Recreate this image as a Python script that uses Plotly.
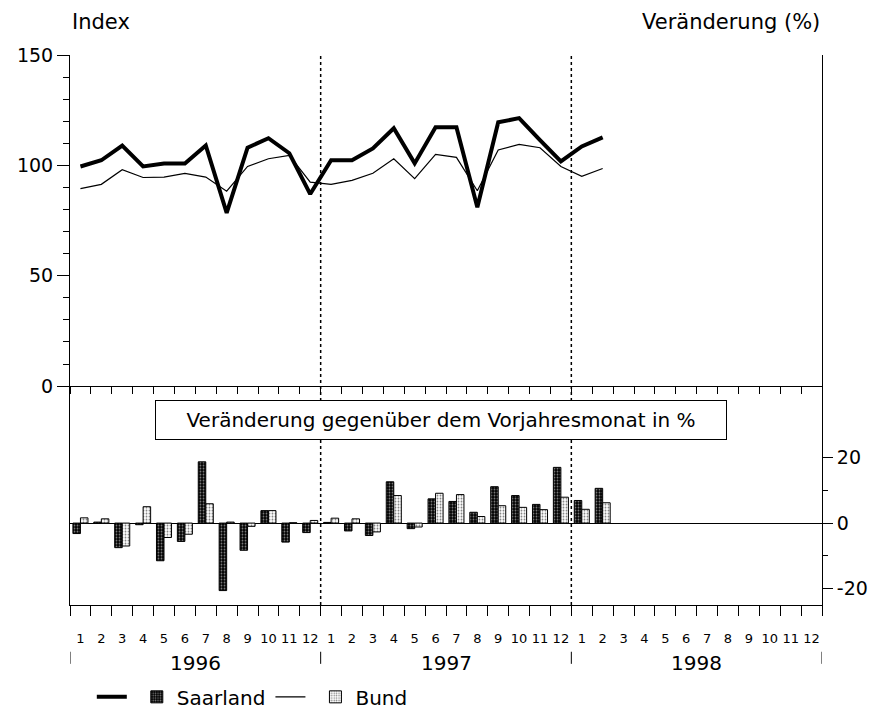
import numpy as np
import plotly.graph_objects as go

# ---------------- data ----------------
years = ["1996", "1997", "1998"]
month_labels = [str(m) for m in range(1, 13)] * 3
chg_tickvals = [-20, 0, 20]
chg_ticktext = ["-20", "0", "20"]

saar_index = [99.5, 102.3, 109.0, 99.5, 100.8, 100.8, 109.0, 78.5, 108.0, 112.3, 105.5, 87.0,
              102.3, 102.3, 107.7, 116.8, 100.9, 117.3, 117.3, 81.0, 119.5, 121.4, 111.4, 101.8,
              108.6, 112.7]
bund_index = [89.5, 91.4, 98.0, 94.5, 94.7, 96.4, 94.7, 88.3, 99.5, 103.0, 104.5, 92.4,
              91.4, 93.2, 96.4, 103.0, 94.0, 105.0, 103.6, 88.5, 107.0, 109.5, 108.0, 99.5,
              95.0, 98.6]

saar_chg = [-3.2, 0.3, -7.5, -0.5, -11.5, -5.6, 18.7, -20.6, -8.3, 3.8, -5.8, -2.9,
            0.2, -2.4, -3.8, 12.6, -1.7, 7.4, 6.6, 3.3, 11.1, 8.4, 5.7, 17.0,
            6.9, 10.6]
bund_chg = [1.6, 1.3, -7.0, 5.0, -4.4, -3.4, 5.9, 0.3, -1.0, 3.8, 0.1, 0.8,
            1.5, 1.3, -2.7, 8.4, -1.2, 9.1, 8.7, 2.0, 5.3, 4.8, 4.1, 7.9,
            4.2, 6.2]

n_months = len(month_labels)
x_pos = np.arange(len(saar_index)) + 0.5
month_centers = np.arange(n_months) + 0.5
month_bounds = np.arange(n_months + 1)
year_bounds = [12 * i for i in range(len(years) + 1)]
year_centers = [12 * i + 6 for i in range(len(years))]

FONT = "DejaVu Sans, Liberation Sans, Arial, sans-serif"

fig = go.Figure()

# lines (top panel) and bars (bottom panel)
fig.add_trace(go.Scatter(x=x_pos, y=saar_index, mode="lines", name="",
                         line=dict(color="black", width=4), xaxis="x2", yaxis="y",
                         legendgroup="s", showlegend=True))
fig.add_trace(go.Bar(x=x_pos, y=saar_chg, name="Saarland", xaxis="x", yaxis="y2",
                     marker=dict(color="black", line=dict(color="black", width=1),
                                 pattern=dict(shape=".", fgcolor="white", bgcolor="black",
                                              size=3, solidity=0.3)),
                     legendgroup="s"))
fig.add_trace(go.Scatter(x=x_pos, y=bund_index, mode="lines", name="",
                         line=dict(color="black", width=1.2), xaxis="x2", yaxis="y",
                         legendgroup="b", showlegend=True))
fig.add_trace(go.Bar(x=x_pos, y=bund_chg, name="Bund", xaxis="x", yaxis="y2",
                     marker=dict(color="white", line=dict(color="black", width=1),
                                 pattern=dict(shape=".", fgcolor="black", bgcolor="white",
                                              size=3, solidity=0.3)),
                     legendgroup="b"))

split = 0.398
fig.update_layout(
    width=869, height=707,
    margin=dict(l=62, r=55, t=47, b=110, autoexpand=False),
    paper_bgcolor="white", plot_bgcolor="white",
    font=dict(family=FONT, color="black", size=19),
    barmode="group", bargap=0.28, bargroupgap=0.0,
    showlegend=True,
    legend=dict(orientation="h", x=0.029, xanchor="left", y=-0.167, yanchor="middle",
                font=dict(size=20), itemwidth=30, traceorder="normal",
                bgcolor="rgba(0,0,0,0)"),
    xaxis=dict(domain=[0, 1], anchor="y2", range=[0, n_months], automargin=False,
               showline=True, linecolor="black", linewidth=1,
               tickmode="array", tickvals=month_centers, ticktext=month_labels,
               ticks="outside", ticklen=0, tickfont=dict(size=13),
               ticklabelstandoff=21,
               minor=dict(tickmode="array", tickvals=month_bounds, ticks="outside",
                          ticklen=10, tickcolor="black", showgrid=False),
               showgrid=False, zeroline=False),
    xaxis2=dict(domain=[0, 1], anchor="y", matches="x", range=[0, n_months],
                automargin=False,
                showline=True, linecolor="black", linewidth=1,
                tickmode="array", tickvals=month_bounds, ticks="outside", ticklen=7,
                tickcolor="black", showticklabels=False, showgrid=False, zeroline=False),
    yaxis=dict(domain=[split, 1], anchor="x2", range=[0, 150], automargin=False,
               showline=True, linecolor="black", linewidth=1, mirror=True,
               tickmode="array", tickvals=[0, 50, 100, 150], ticks="outside",
               ticklen=12, tickcolor="black",
               minor=dict(dtick=10, tick0=0, ticks="outside", ticklen=6,
                          tickcolor="black", showgrid=False),
               showgrid=False, zeroline=False, tickfont=dict(size=19)),
    yaxis2=dict(domain=[0, split], anchor="x", range=[-25, 41.8], side="right",
                automargin=False,
                showline=True, linecolor="black", linewidth=1, mirror=True,
                tickmode="array", tickvals=chg_tickvals, ticktext=chg_ticktext,
                ticks="outside", ticklen=10, tickcolor="black",
                minor=dict(tickmode="array", tickvals=[-10, 10], ticks="outside",
                           ticklen=5, tickcolor="black", showgrid=False),
                showgrid=False, zeroline=True, zerolinecolor="black", zerolinewidth=1,
                tickfont=dict(size=19)),
)

# dotted year separators through both panels
for b in year_bounds[1:-1]:
    fig.add_shape(type="line", xref="x", yref="paper", x0=b, x1=b, y0=0, y1=1,
                  line=dict(color="black", width=1.5, dash="dot"))

# year separator ticks under month labels and year labels
for b in year_bounds:
    fig.add_shape(type="line", xref="x", yref="paper", x0=b, x1=b, y0=-0.085, y1=-0.107,
                  line=dict(color="black", width=1))
for yc, yl in zip(year_centers, years):
    fig.add_annotation(x=yc, xref="x", y=-0.105, yref="paper", text=yl, showarrow=False,
                       font=dict(size=20), xanchor="center", yanchor="middle")

# titles
fig.add_annotation(x=0, xref="paper", y=1.06, yref="paper", text="Index", showarrow=False,
                   font=dict(size=21), xanchor="left", yanchor="middle")
fig.add_annotation(x=1, xref="paper", y=1.06, yref="paper", text="Veränderung (%)",
                   showarrow=False, font=dict(size=21), xanchor="right", yanchor="middle")

# box label in lower panel
fig.add_annotation(x=0.4934, xref="paper", y=0.336, yref="paper",
                   text="Veränderung gegenüber dem Vorjahresmonat in %",
                   showarrow=False, font=dict(size=20), xanchor="center", yanchor="middle",
                   bordercolor="black", borderwidth=1, borderpad=7, bgcolor="white",
                   width=556, height=24)

fig.write_html("out.html")
